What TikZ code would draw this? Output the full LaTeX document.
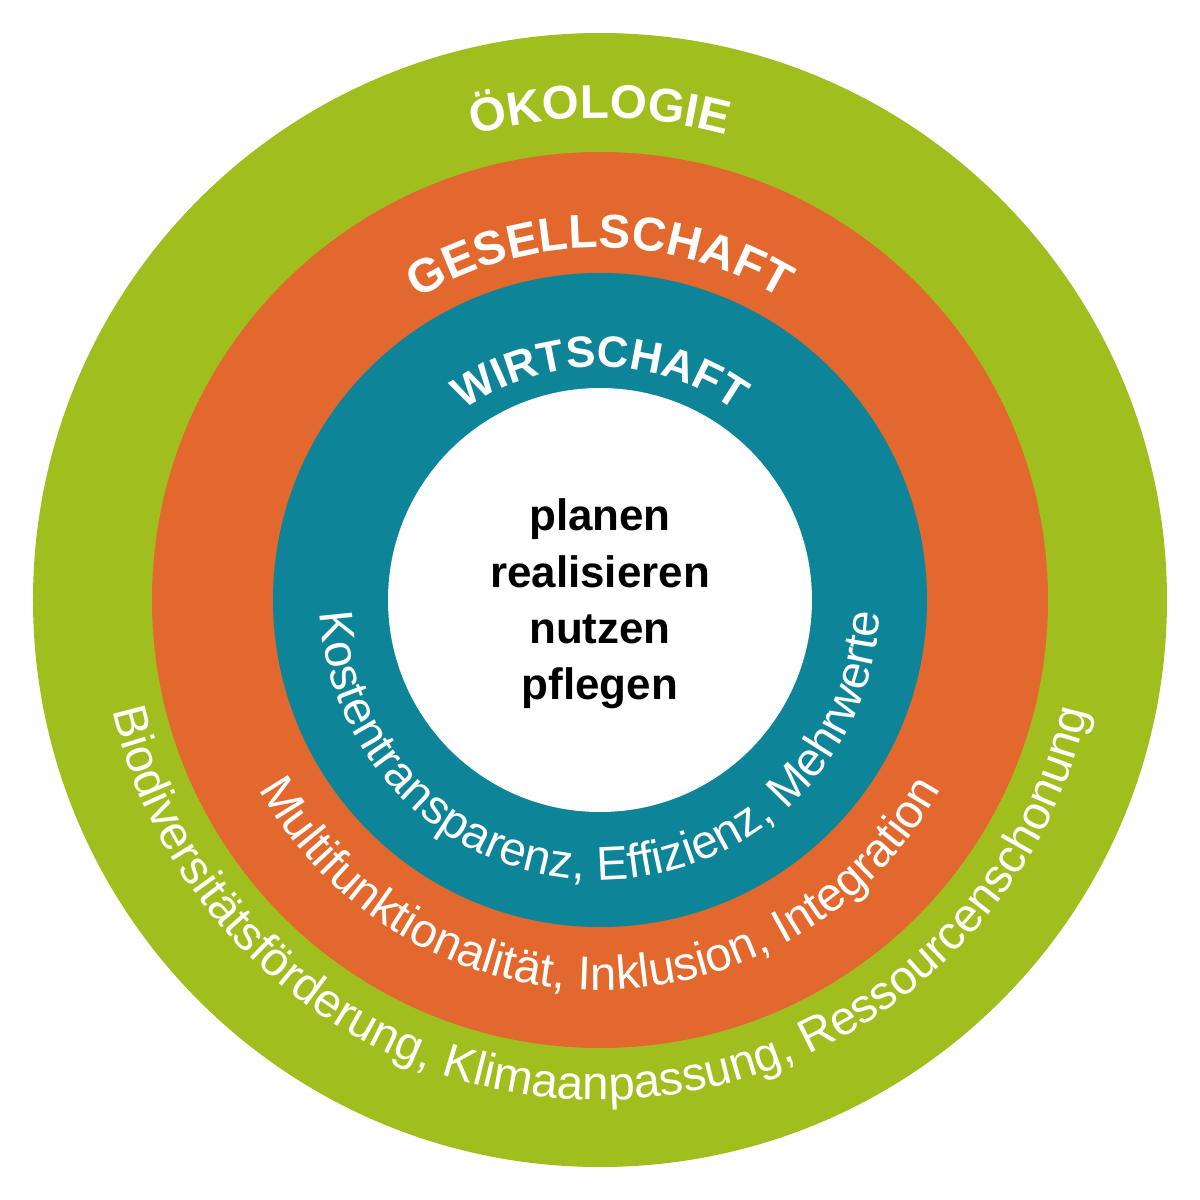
\documentclass[tikz,border=0pt]{standalone}
\usepackage{fontspec}
\setmainfont{Liberation Sans}
\usetikzlibrary{decorations.text}
\definecolor{eco}{RGB}{160,190,30}
\definecolor{soc}{RGB}{226,104,45}
\definecolor{wir}{RGB}{14,132,153}
\newfontfamily\titfont[LetterSpace=30]{Liberation Sans Bold}
\begin{document}
\begin{tikzpicture}
\useasboundingbox (-6,-6) rectangle (6,6);
\tikzset{ring/.style={circle,inner sep=0pt,draw=none}}
\node[ring,fill=eco,minimum size=11.34cm] (oeko) at (0,0) {};
\node[ring,fill=soc,minimum size=8.96cm] (ges) at (0,0) {};
\node[ring,fill=wir,minimum size=6.54cm] (wirt) at (0,0) {};
\node[ring,fill=white,minimum size=4.24cm] (core) at (0,0) {};
\node[align=center,font=\bfseries\fontsize{12.5}{16}\selectfont] (mid) at (0,-0.04)
 {planen\\realisieren\\nutzen\\pflegen};
% titles
\path[decorate,decoration={text along path,text align=center,
 text={|\titfont\fontsize{13.5}{13.5}\selectfont\color{white}|ÖKOLOGIE}}]
 (180:4.82) arc[start angle=180,end angle=0,radius=4.82cm];
\path[decorate,decoration={text along path,text align=center,
 text={|\titfont\fontsize{13.5}{13.5}\selectfont\color{white}|GESELLSCHAFT}}]
 (180:3.52) arc[start angle=180,end angle=0,radius=3.52cm];
\path[decorate,decoration={text along path,text align=center,
 text={|\titfont\fontsize{12.5}{12.5}\selectfont\color{white}|WIRTSCHAFT}}]
 (180:2.33) arc[start angle=180,end angle=0,radius=2.33cm];
% bottom texts
\path[decorate,decoration={text along path,text align=center,
 text={|\fontsize{13.5}{13.5}\selectfont\color{white}|Biodiversitätsförderung, Klimaanpassung, Ressourcenschonung}}]
 (170:5.0) arc[start angle=170,end angle=370,radius=5.0cm];
\path[decorate,decoration={text along path,text align=center,
 text={|\fontsize{13.5}{13.5}\selectfont\color{white}|Multifunktionalität, Inklusion, Integration}}]
 (170:3.9) arc[start angle=170,end angle=370,radius=3.9cm];
\path[decorate,decoration={text along path,text align=center,
 text={|\fontsize{13.5}{13.5}\selectfont\color{white}|Kostentransparenz, Effizienz, Mehrwerte}}]
 (170:2.8) arc[start angle=170,end angle=370,radius=2.8cm];
\end{tikzpicture}
\end{document}
